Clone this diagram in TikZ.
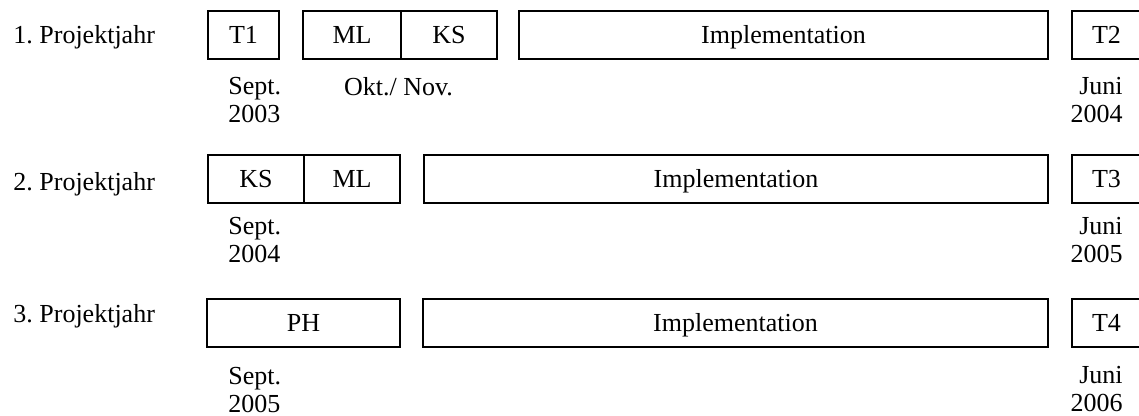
\documentclass[tikz,border=0pt]{standalone}
\usepackage{fontspec}
\setmainfont{Liberation Serif}
\frenchspacing
\tikzset{
  phase/.style={draw, rectangle, line width=0.9pt, inner sep=0pt, minimum height=24pt,
    text height=11.5pt, text depth=3pt},
  yearlabel/.style={anchor=west, inner sep=0pt},
  datelabel/.style={inner sep=0pt, align=left},
}
\begin{document}
\begin{tikzpicture}[x=0.5pt,y=-0.5pt,font=\fontsize{13pt}{14pt}\selectfont]
\useasboundingbox (0,0) rectangle (1139,416);
  % Row: 1. Projektjahr
  \node[yearlabel] (year1) at (13,37) {1. Projektjahr};
  \node[phase, minimum width=35.5pt] (t1) at (243.5,35) {T1};
  \node[phase, minimum width=49pt] (ml1) at (352,35) {ML};
  \node[phase, minimum width=48pt] (ks1) at (449,35) {KS};
  \node[phase, minimum width=264.5pt] (impl1) at (783.5,35) {Implementation};
  \node[phase, minimum width=34.5pt] (t2) at (1106.5,35) {T2};
  \node[datelabel, anchor=north west] (start1) at (228,77) {Sept.\\2003};
  \node[datelabel, anchor=north] (okt) at (398.5,77) {Okt./ Nov.};
  \node[datelabel, align=right, anchor=north east] (end1) at (1123,77) {Juni\\2004};
  % Row: 2. Projektjahr
  \node[yearlabel] (year2) at (13,184) {2. Projektjahr};
  \node[phase, minimum width=48pt] (ks2) at (256,179) {KS};
  \node[phase, minimum width=48pt] (ml2) at (352,179) {ML};
  \node[phase, minimum width=312pt] (impl2) at (736,179) {Implementation};
  \node[phase, minimum width=34.5pt] (t3) at (1106.5,179) {T3};
  \node[datelabel, anchor=north west] (start2) at (228,217) {Sept.\\2004};
  \node[datelabel, align=right, anchor=north east] (end2) at (1123,217) {Juni\\2005};
  % Row: 3. Projektjahr
  \node[yearlabel] (year3) at (13,316) {3. Projektjahr};
  \node[phase, minimum width=96.5pt] (ph) at (303.5,323) {PH};
  \node[phase, minimum width=312.5pt] (impl3) at (735.5,323) {Implementation};
  \node[phase, minimum width=34.5pt] (t4) at (1106.5,323) {T4};
  \node[datelabel, anchor=north west] (start3) at (228,367) {Sept.\\2005};
  \node[datelabel, align=right, anchor=north east] (end3) at (1123,366) {Juni\\2006};
%
\end{tikzpicture}
\end{document}
